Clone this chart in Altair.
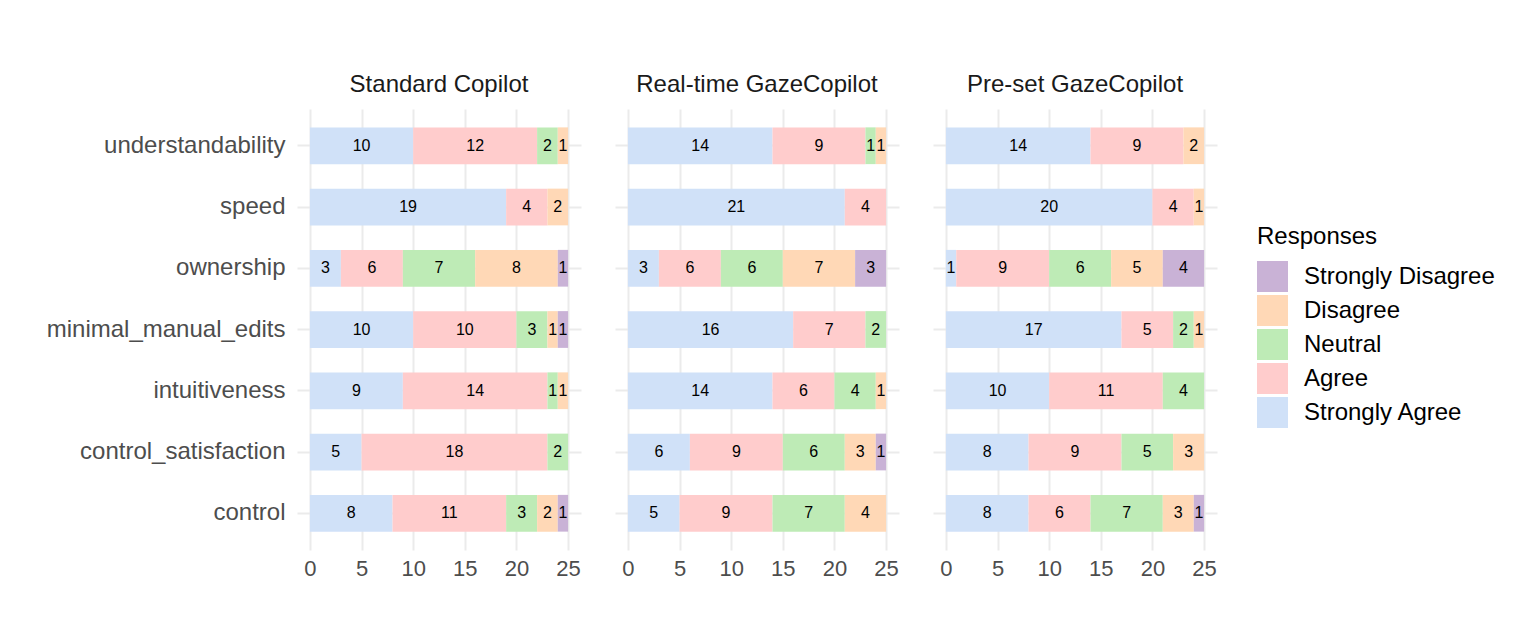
import altair as alt
import pandas as pd

conditions = ["Standard Copilot", "Real-time GazeCopilot", "Pre-set GazeCopilot"]
items = ["understandability", "speed", "ownership", "minimal_manual_edits",
         "intuitiveness", "control_satisfaction", "control"]
responses = ["Strongly Agree", "Agree", "Neutral", "Disagree", "Strongly Disagree"]
legend_order = ["Strongly Disagree", "Disagree", "Neutral", "Agree", "Strongly Agree"]
legend_colors = ["#C9B2D6", "#FFD8B6", "#BEEBB6", "#FFCCCC", "#D0E1F8"]

standard = {
    "Strongly Agree":    [10, 19, 3, 10, 9, 5, 8],
    "Agree":             [12, 4, 6, 10, 14, 18, 11],
    "Neutral":           [2, 0, 7, 3, 1, 2, 3],
    "Disagree":          [1, 2, 8, 1, 1, 0, 2],
    "Strongly Disagree": [0, 0, 1, 1, 0, 0, 1],
}
realtime = {
    "Strongly Agree":    [14, 21, 3, 16, 14, 6, 5],
    "Agree":             [9, 4, 6, 7, 6, 9, 9],
    "Neutral":           [1, 0, 6, 2, 4, 6, 7],
    "Disagree":          [1, 0, 7, 0, 1, 3, 4],
    "Strongly Disagree": [0, 0, 3, 0, 0, 1, 0],
}
preset = {
    "Strongly Agree":    [14, 20, 1, 17, 10, 8, 8],
    "Agree":             [9, 4, 9, 5, 11, 9, 6],
    "Neutral":           [0, 0, 6, 2, 4, 5, 7],
    "Disagree":          [2, 1, 5, 1, 0, 3, 3],
    "Strongly Disagree": [0, 0, 4, 0, 0, 0, 1],
}

x_values = [0, 2.5, 5, 7.5, 10, 12.5, 15, 17.5, 20, 22.5, 25]

rows = []
for cond, counts in zip(conditions, [standard, realtime, preset]):
    for order, resp in enumerate(responses):
        for item, v in zip(items, counts[resp]):
            if v > 0:
                rows.append(dict(condition=cond, item=item, response=resp,
                                 order=order, count=v))
df = pd.DataFrame(rows)

base = alt.Chart().transform_stack(
    stack="count", groupby=["condition", "item"],
    sort=[alt.SortField("order")], as_=["x0", "x1"]
).transform_calculate(mid="(datum.x0 + datum.x1) / 2")

y_enc = alt.Y("item:N", sort=items, title=None,
              scale=alt.Scale(paddingInner=0.4, paddingOuter=0.3),
              axis=alt.Axis(bandPosition=0.5, grid=True, gridColor="#EBEBEB",
                            gridWidth=2, domain=False, ticks=False,
                            labelFontSize=24, labelColor="#4D4D4D",
                            labelPadding=12, labelLimit=0))

bars = base.mark_bar().encode(
    x=alt.X("x0:Q", title=None,
            scale=alt.Scale(domain=[-1.25, 26.25], nice=False, zero=False),
            axis=alt.Axis(values=x_values,
                          labelExpr="datum.value % 5 === 0 ? datum.label : ''",
                          grid=True, gridColor="#EBEBEB",
                          gridWidth={"condition": {"test": "datum.value % 5 === 0", "value": 2},
                                     "value": 1.3},
                          domain=False, ticks=False, labelFontSize=22,
                          labelColor="#4D4D4D", labelPadding=8)),
    x2="x1:Q",
    y=y_enc,
    color=alt.Color("response:N",
                    scale=alt.Scale(domain=legend_order, range=legend_colors),
                    legend=alt.Legend(title="Responses", orient="none",
                                      legendX=960, legendY=116)),
)

text = base.mark_text(fontSize=16, color="black").encode(
    x="mid:Q",
    y=alt.Y("item:N", sort=items),
    text="count:Q",
)

chart = alt.layer(bars, text, data=df).properties(width=284, height=441).facet(
    column=alt.Column("condition:N", sort=conditions,
                      header=alt.Header(title=None, labelFontSize=24,
                                        labelColor="#1A1A1A", labelPadding=12)),
    spacing=34,
).properties(
    padding={"left": 38, "top": 65, "right": 10, "bottom": 10}
).configure(font="Liberation Sans").configure_view(stroke=None).configure_legend(
    titleFontSize=24, titleFontWeight="normal", titleColor="black",
    labelFontSize=24, labelColor="black", symbolType="square", symbolSize=961,
    symbolStrokeWidth=0, rowPadding=3, labelOffset=16, titlePadding=12,
    labelLimit=0,
)

chart.save("out.html", embed_options={"renderer": "svg", "actions": False})
